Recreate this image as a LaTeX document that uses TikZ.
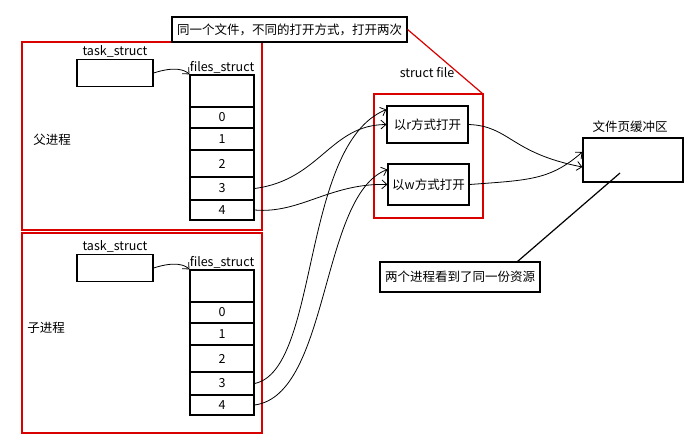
\documentclass[tikz,border=0pt]{standalone}
\usepackage{fontspec}
\setmainfont{Noto Sans CJK SC}
\usetikzlibrary{arrows.meta}

\tikzset{
  box/.style={draw,line width=1.2pt,inner sep=0pt},
  redbox/.style={draw=red!85!black,line width=1.2pt},
  lbl/.style={font=\fontsize{12.5}{14}\selectfont,inner sep=1pt},
  link/.style={thick,-{Straight Barb[length=5pt,width=9pt]}},
}

\begin{document}
\begin{tikzpicture}[x=1pt,y=-1pt]
  \useasboundingbox (0,0) rectangle (692,439);

  % processes
  \draw[redbox] (22,42) rectangle (262,230);
  \draw[redbox] (22,233) rectangle (262,433);
  \node[lbl] (father) at (52,140) {父进程};
  \node[lbl] (child) at (46,328) {子进程};

  % task_struct and files_struct, parent (p) and child (c)
  \foreach \who/\dy in {p/0,c/195} {
    \node[box,minimum width=76pt,minimum height=27pt] (\who task) at (115,73+\dy) {};
    \node[lbl,above] at (\who task.north) {task\_struct};
    \node[box,minimum width=64pt,minimum height=32pt] (\who top) at (222,91+\dy) {};
    \node[lbl,above] at (\who top.north) {files\_struct};
    \foreach \i/\yc/\h in {0/117.5/21,1/139/22,2/163.5/27,3/188.5/23,4/210/20}
      \node[box,lbl,minimum width=64pt,minimum height=\h pt] (\who\i) at (222,\yc+\dy) {\i};
    \draw[link] (\who task.east) .. controls (175,66+\dy) and (185,70+\dy) .. (\who top.north west);
  }

  % struct file
  \node[lbl] (sfile) at (427,73) {struct file};
  \draw[redbox] (374,94) coordinate (sfnw) rectangle (483,218);
  \node[box,lbl,minimum width=81pt,minimum height=37pt] (rmode) at (427.5,124.5) {以r方式打开};
  \node[box,lbl,minimum width=81pt,minimum height=41pt] (wmode) at (428.5,184.5) {以w方式打开};

  % note
  \node[box,lbl,inner sep=5pt,minimum height=25pt] (note) at (289.5,29.5) {同一个文件，不同的打开方式，打开两次};
  \draw[red!85!black,line width=1.2pt] (note.east) -- (483,94);

  % page cache
  \node[lbl] (cachelbl) at (630,127) {文件页缓冲区};
  \node[box,minimum width=100pt,minimum height=44pt] (cache) at (633,160) {};
  \node[box,lbl,inner sep=5pt,minimum height=30pt] (share) at (460,277) {两个进程看到了同一份资源};
  \draw[line width=1.2pt] (share.north east) ++(-23,0) -- (620,173);

  % fd links
  \draw[link] (p3.east) .. controls (320,180) and (330,125) .. (rmode.west);
  \draw[link] (p4.east) .. controls (300,214) and (330,183) .. (wmode.west);
  \draw[link] (c3.east) .. controls (320,370) and (300,145) .. ([yshift=15pt]rmode.west);
  \draw[link] (c4.east) .. controls (330,395) and (320,195) .. ([yshift=15pt]wmode.west);
  \draw[link] (rmode.east) .. controls (510,126) and (510,153) .. ([yshift=-7pt]cache.west);
  \draw[link] (wmode.east) .. controls (530,180) and (550,180) .. ([yshift=8pt]cache.west);
\end{tikzpicture}
\end{document}
